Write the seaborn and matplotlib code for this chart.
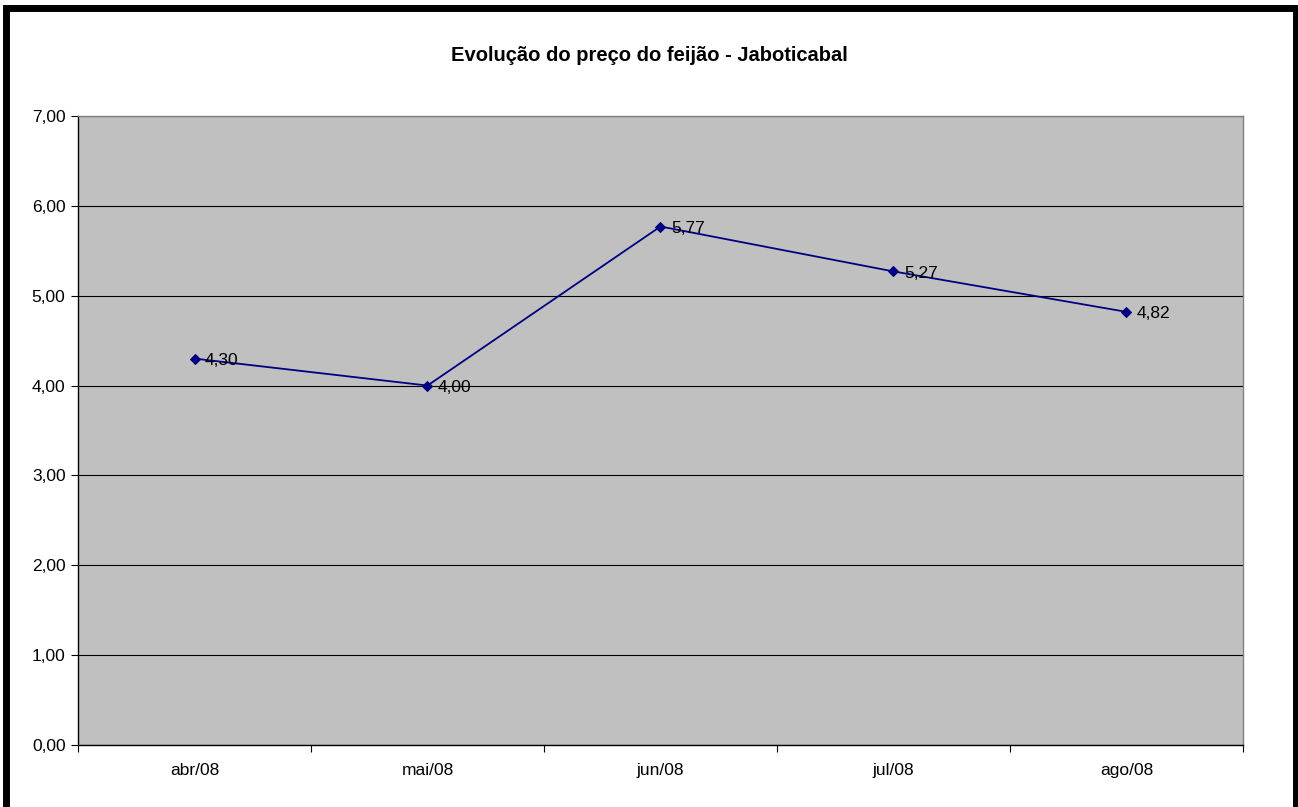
import matplotlib
matplotlib.use("Agg")
import matplotlib.pyplot as plt
import seaborn as sns
import pandas as pd
from matplotlib.patches import Rectangle

# ----------------------------------------------------------------------
# Data
# ----------------------------------------------------------------------
meses = ["abr/08", "mai/08", "jun/08", "jul/08", "ago/08"]
precos = [4.30, 4.00, 5.77, 5.27, 4.82]
y_ticks = [0, 1, 2, 3, 4, 5, 6, 7]

df = pd.DataFrame({"mes": meses, "preco": precos})
df["pos"] = range(len(meses))

# ----------------------------------------------------------------------
# Style
# ----------------------------------------------------------------------
sns.set_style("white")
plt.rcParams["font.family"] = ["Liberation Sans", "DejaVu Sans"]
plt.rcParams["text.color"] = "black"
plt.rcParams["xtick.color"] = "black"
plt.rcParams["ytick.color"] = "black"

fig = plt.figure(figsize=(12.98, 8.07), dpi=100)
ax = fig.add_axes([0.0601, 0.0768, 0.8975, 0.7795])
ax.set_facecolor("#C0C0C0")

sns.lineplot(data=df, x="pos", y="preco", ax=ax, color="#000080",
             linewidth=1.3, marker="D", markersize=5.5,
             markeredgecolor="#000080", zorder=3)

for x, y in zip(df["pos"], df["preco"]):
    ax.annotate(f"{y:.2f}".replace(".", ","), (x, y), xytext=(7.5, -1.5),
                textcoords="offset points", ha="left", va="center",
                fontsize=12.5, color="black", zorder=4)

# axes
ax.set_xlim(-0.5, len(meses) - 0.5)
ax.set_ylim(0, 7)
ax.set_yticks(y_ticks)
ax.set_yticklabels([f"{v:.2f}".replace(".", ",") for v in y_ticks], fontsize=12.5)
ax.yaxis.grid(True, color="black", linewidth=0.8)
ax.set_axisbelow(True)

ax.set_xticks([i - 0.5 for i in range(len(meses) + 1)])
ax.set_xticklabels([])
ax.set_xticks(range(len(meses)), minor=True)
ax.set_xticklabels(meses, minor=True, fontsize=12.5)
ax.tick_params(axis="x", which="major", direction="out", length=5, width=0.8,
               color="black", bottom=True)
ax.tick_params(axis="x", which="minor", length=0, pad=13)
ax.tick_params(axis="y", direction="out", length=5, width=0.8, color="black",
               left=True, pad=4)

ax.set_xlabel("")
ax.set_ylabel("")

for side in ["left", "bottom"]:
    ax.spines[side].set_color("black")
    ax.spines[side].set_linewidth(1.0)
for side in ["top", "right"]:
    ax.spines[side].set_color("#808080")
    ax.spines[side].set_linewidth(1.0)

fig.text(0.5, 0.931, "Evolução do preço do feijão - Jaboticabal",
         ha="center", va="center", fontsize=14.5, fontweight="bold")

# outer chart border
fig.patches.append(Rectangle((0.00424, -0.05), 0.9946, 1.0407, transform=fig.transFigure,
                             fill=False, edgecolor="black", linewidth=5.0, zorder=10))

fig.savefig("out.png", dpi=100)
